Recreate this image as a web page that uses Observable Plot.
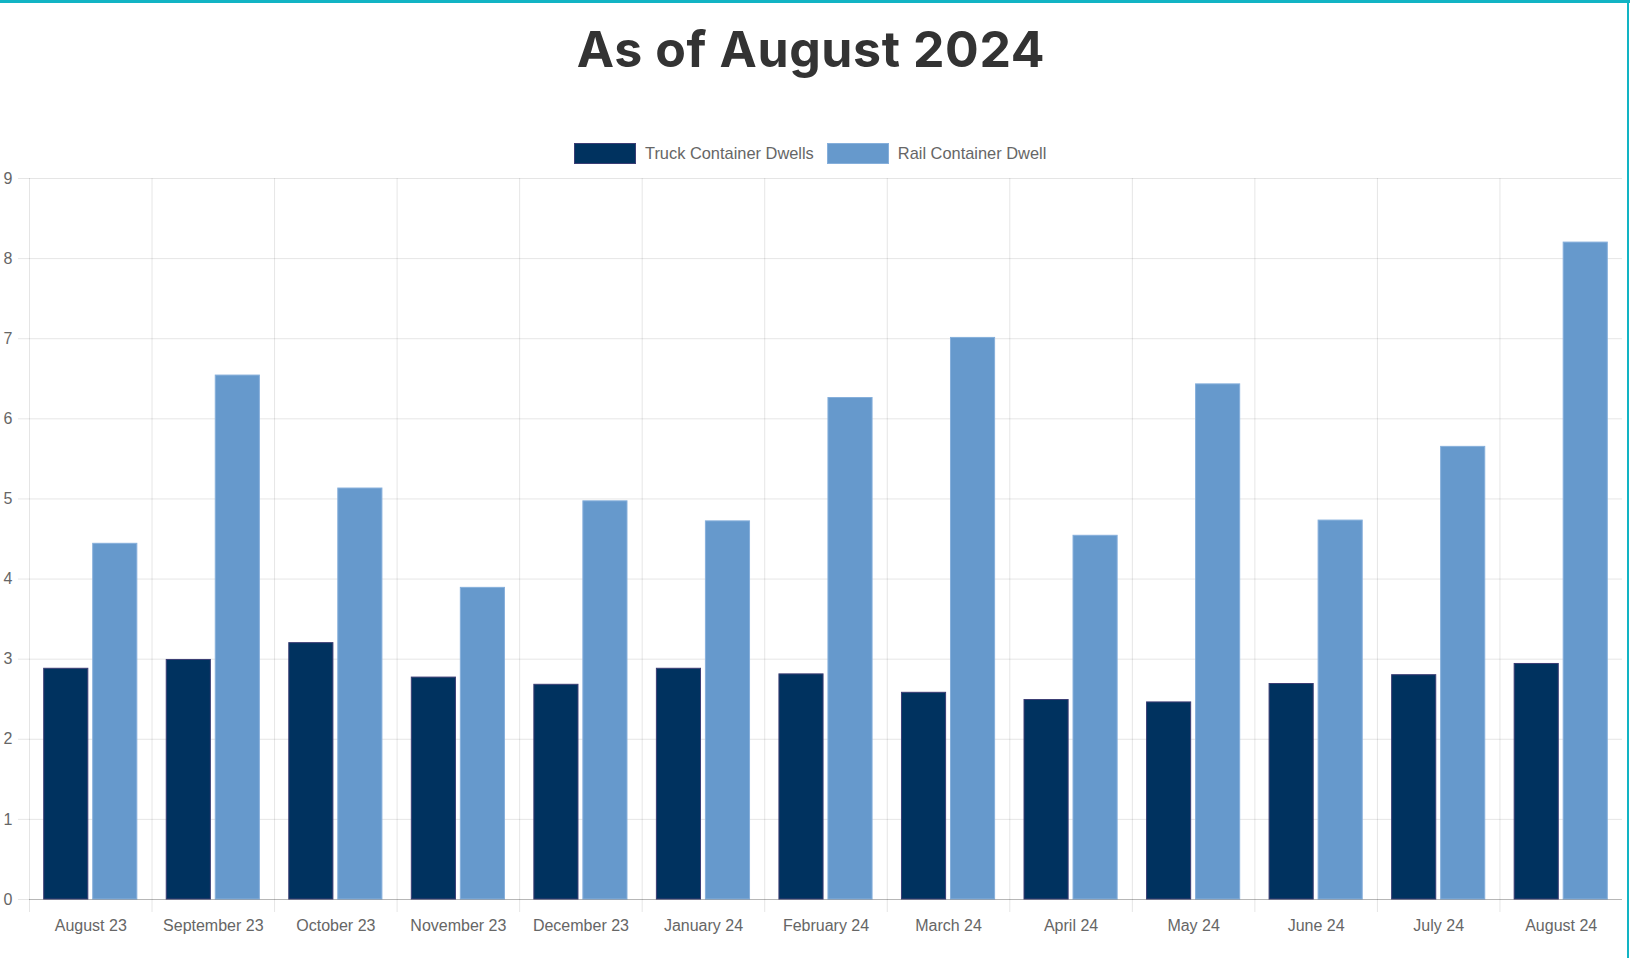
<!DOCTYPE html>
<html>
<head>
<meta charset="utf-8">
<script src="https://cdn.jsdelivr.net/npm/d3@7"></script>
<script src="https://cdn.jsdelivr.net/npm/@observablehq/plot@0.6"></script>
<style>
  html, body { margin: 0; padding: 0; background: #fff; }
  body { width: 1630px; height: 958px; position: relative; overflow: hidden; font-family: "Liberation Sans", Arial, sans-serif; }
  #topbar { position: absolute; left: 0; top: 0; width: 1630px; height: 3px; background: #12b4c4; }
  #rightbar { position: absolute; left: 1627px; top: 0; width: 2px; height: 958px; background: #12b4c4; }
  #title { position: absolute; left: 0; top: 17px; width: 1622px; text-align: center; font-family: Inter, "Open Sans", sans-serif; font-weight: 700; font-size: 50px; color: #333; letter-spacing: 0.6px; line-height: 64px; }
  #legend { position: absolute; left: 574px; top: 143px; display: flex; align-items: center; height: 21px; font-size: 16.4px; color: #666; }
  .sw { width: 60px; height: 19px; box-sizing: content-box; }
  .lab { margin-left: 9px; margin-right: 13px; white-space: nowrap; }
  #chart { position: absolute; left: 0; top: 170px; }
</style>
</head>
<body>
<div id="topbar"></div>
<div id="rightbar"></div>
<div id="title">As of August 2024</div>
<div id="legend"></div>
<div id="chart"></div>
<script>
const months = ["August 23","September 23","October 23","November 23","December 23","January 24","February 24","March 24","April 24","May 24","June 24","July 24","August 24"];
const seriesNames = ["Truck Container Dwells", "Rail Container Dwell"];
const truckValues = [2.88, 2.99, 3.20, 2.77, 2.68, 2.88, 2.81, 2.58, 2.49, 2.46, 2.69, 2.80, 2.94];
const railValues  = [4.44, 6.54, 5.13, 3.89, 4.97, 4.72, 6.26, 7.01, 4.54, 6.43, 4.73, 5.65, 8.20];
const yTicks = [0,1,2,3,4,5,6,7,8,9];
const fills = ["#00325f", "#6699cc"];
const strokes = ["#3b3d74", "#86afdb"];

const truck = months.map((m, i) => ({month: m, series: seriesNames[0], value: truckValues[i]}));
const rail = months.map((m, i) => ({month: m, series: seriesNames[1], value: railValues[i]}));

// legend
const legend = document.getElementById("legend");
seriesNames.forEach((s, i) => {
  const sw = document.createElement("div");
  sw.className = "sw";
  sw.style.background = fills[i];
  sw.style.border = "1px solid " + strokes[i];
  const lab = document.createElement("span");
  lab.className = "lab";
  lab.textContent = s;
  legend.appendChild(sw);
  legend.appendChild(lab);
});

const chart = Plot.plot({
  width: 1630,
  height: 780,
  marginTop: 8,
  marginBottom: 51,
  marginLeft: 29,
  marginRight: 8,
  facet: {marginLeft: 0, marginRight: 0, marginTop: 0, marginBottom: 0},
  style: {fontFamily: "'Liberation Sans', Arial, sans-serif", fontSize: "16px", background: "transparent", overflow: "visible", color: "#666"},
  fx: {domain: months, padding: 0, round: false, label: null, axis: null},
  x: {domain: seriesNames, paddingInner: 0.1, paddingOuter: 0.3, round: false, axis: null},
  y: {domain: [0, 9], label: null, axis: null},
  marks: [
    Plot.gridY(yTicks, {stroke: "#000", strokeOpacity: 0.1}),
    Plot.frame({anchor: "left", stroke: "#000", strokeOpacity: 0.1, insetBottom: -12}),
    Plot.axisY(yTicks, {tickSize: 11, tickPadding: 6, tickFormat: "d", stroke: "#000", strokeOpacity: 0.1, fill: "#666", fontSize: 16, label: null}),
    Plot.axisFx({anchor: "bottom", tickSize: 0, tickPadding: 20, fill: "#666", fontSize: 16, label: null}),
    Plot.barY(truck, {fx: "month", x: "series", y: "value", fill: fills[0], stroke: strokes[0], strokeWidth: 1}),
    Plot.barY(rail, {fx: "month", x: "series", y: "value", fill: fills[1], stroke: strokes[1], strokeWidth: 1}),
    Plot.ruleY([0], {stroke: "#000", strokeOpacity: 0.2})
  ]
});
document.getElementById("chart").appendChild(chart);
</script>
</body>
</html>
